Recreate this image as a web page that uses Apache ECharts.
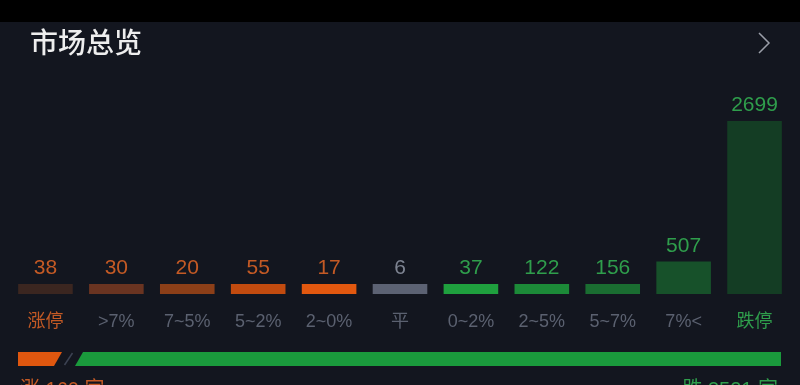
<!DOCTYPE html>
<html><head><meta charset="utf-8">
<script src="https://cdn.jsdelivr.net/npm/echarts@6/dist/echarts.min.js"></script>
<style>html,body{margin:0;padding:0;background:#13161f;}#c{width:800px;height:385px;}</style>
</head><body><div id="c"></div>
<script>
var categories = ['涨停','>7%','7~5%','5~2%','2~0%','平','0~2%','2~5%','5~7%','7%<','跌停'];
var values = [38,30,20,55,17,6,37,122,156,507,2699];
var barColors = ['#3b2620','#6a3421','#8c3f18','#c24b0f','#e2580f','#5c6273','#1fa03e','#1c8a38','#1a6d31','#17512a','#143d24'];
var labelColors = ['#c45a25','#c45a25','#c45a25','#c45a25','#c45a25','#7d8391','#2f9e4c','#2f9e4c','#2f9e4c','#2f9e4c','#2f9e4c'];
var catColors = ['#c45a25','#5b6170','#5b6170','#5b6170','#5b6170','#5b6170','#5b6170','#5b6170','#5b6170','#5b6170','#2f9e4c'];
var upCount = values.slice(0,5).reduce(function(a,b){return a+b;},0);
var downCount = values.slice(6).reduce(function(a,b){return a+b;},0);

var chart = echarts.init(document.getElementById('c'));
var F = 'Liberation Sans, Noto Sans CJK SC, sans-serif';
var FC = 'Noto Sans CJK SC, sans-serif';

// ratio bar layout
var rbL = 18, rbR = 781, rbT = 352, rbH = 14, gap = 13, slant = 8;
var avail = rbR - rbL - gap;
var upW = Math.max(44, avail * upCount / (upCount + downCount));
var upEnd = rbL + upW;
var dnStart = upEnd + gap;

chart.setOption({
  backgroundColor: '#13161f',
  animation: false,
  grid: {left: 10, right: 10, top: 121, bottom: 91},
  xAxis: {
    type: 'category', data: categories,
    axisLine: {show: false}, axisTick: {show: false},
    axisLabel: {
      margin: 19, fontSize: 18, fontFamily: F,
      color: function(v, i){ return catColors[i]; }
    }
  },
  yAxis: {type: 'value', min: 0, max: Math.max.apply(null, values), show: false, splitLine: {show: false}},
  series: [{
    type: 'bar', barWidth: '77%', barMinHeight: 10,
    data: values.map(function(v, i){
      return {value: v, itemStyle: {color: barColors[i]},
        label: {color: labelColors[i]}};
    }),
    label: {show: true, position: 'top', distance: 5, fontSize: 21, fontFamily: F}
  }],
  graphic: [
    {type: 'rect', shape: {x: 0, y: 0, width: 800, height: 22}, style: {fill: '#000000'}, silent: true},
    {type: 'text', left: 30, top: 28, style: {text: '市场总览', fontSize: 28, fontFamily: FC, fill: '#eeeeee', fontWeight: 500}},
    {type: 'polyline', shape: {points: [[759, 33], [769, 43], [759, 53]]}, style: {stroke: '#9a9ea8', lineWidth: 1.5, fill: null}},
    {type: 'polygon', shape: {points: [[rbL, rbT], [upEnd, rbT], [upEnd - slant, rbT + rbH], [rbL, rbT + rbH]]}, style: {fill: '#df570f'}},
    {type: 'line', shape: {x1: upEnd + gap/2 + 4, y1: rbT + 1, x2: upEnd + gap/2 - 4, y2: rbT + rbH - 1}, style: {stroke: '#3c4252', lineWidth: 1.5}},
    {type: 'polygon', shape: {points: [[dnStart + slant, rbT], [rbR, rbT], [rbR, rbT + rbH], [dnStart, rbT + rbH]]}, style: {fill: '#1a9a3c'}},
    {type: 'text', left: 20, top: 380, style: {text: '涨 ' + upCount + ' 家', fontSize: 20, fontFamily: F, fill: '#c45a25'}},
    {type: 'text', right: 22, top: 380, style: {text: '跌 ' + downCount + ' 家', fontSize: 20, fontFamily: F, fill: '#2f9e4c'}}
  ]
});
</script>
</body></html>
